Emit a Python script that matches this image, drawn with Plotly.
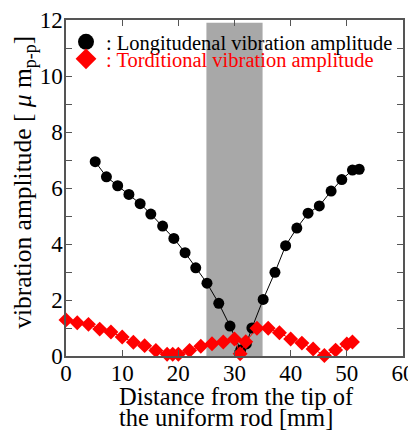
import plotly.graph_objects as go

# Longitudinal vibration amplitude (black circles)
long_x = [5.2, 7.2, 9.2, 11.2, 13.2, 15.1, 17.2, 19.2, 21.2, 23.1, 25.1, 27.2, 29.2,
          31.1, 32.1, 33.1, 35.1, 37.2, 39.1, 41.1, 43.1, 45.1, 47.2, 49.1, 51.0, 52.2]
long_y = [6.94, 6.40, 6.08, 5.77, 5.44, 5.07, 4.64, 4.20, 3.69, 3.15, 2.60, 1.88, 1.07,
          0.21, 0.43, 1.00, 2.02, 2.99, 3.94, 4.57, 5.10, 5.36, 5.89, 6.30, 6.64, 6.67]

# Torsional vibration amplitude (red diamonds)
tors_x = [0, 2, 4, 6, 8, 10, 12, 14, 16, 18, 19, 20, 22, 24, 26, 28, 30, 31, 32,
          34, 36, 38, 40, 42, 44, 46, 48, 50, 51]
tors_y = [1.29, 1.19, 1.13, 0.96, 0.86, 0.68, 0.49, 0.37, 0.20, 0.06, 0.06, 0.06, 0.20,
          0.35, 0.44, 0.50, 0.61, 0.08, 0.51, 0.99, 0.99, 0.83, 0.61, 0.46, 0.25, 0.02,
          0.21, 0.43, 0.50]

band = [25, 35]
x_ticks = [0, 10, 20, 30, 40, 50, 60]
y_ticks = [0, 2, 4, 6, 8, 10, 12]

long_name = ": Longitudenal vibration amplitude"
tors_name = ": Torditional vibration amplitude"
x_title_1 = "Distance from the tip of"
x_title_2 = "the uniform rod [mm]"
y_title = "vibration amplitude [ <i>μ</i> m<sub>p-p</sub>]"

FONT = "Liberation Serif, Times New Roman, serif"
AX = "#555555"

fig = go.Figure()

fig.add_shape(type="rect", xref="x", yref="y", x0=band[0], x1=band[1], y0=0, y1=11.9,
              fillcolor="#a8a8a8", line=dict(width=0), layer="below")

fig.add_trace(go.Scatter(x=long_x, y=long_y, mode="lines+markers",
                         line=dict(color="black", width=1),
                         marker=dict(symbol="circle", size=11, color="black"),
                         showlegend=False, cliponaxis=False))
fig.add_trace(go.Scatter(x=tors_x, y=tors_y, mode="lines+markers",
                         line=dict(color="red", width=1),
                         marker=dict(symbol="diamond", size=11.5, color="red"),
                         showlegend=False, cliponaxis=False))

# legend entries
fig.add_trace(go.Scatter(x=[None], y=[None], mode="markers", name=long_name, legend="legend",
                         marker=dict(symbol="circle", size=18, color="black")))
fig.add_trace(go.Scatter(x=[None], y=[None], mode="markers", name=tors_name, legend="legend2",
                         marker=dict(symbol="diamond", size=18, color="red")))

axis_common = dict(showline=True, linecolor=AX, linewidth=1.5, mirror="ticks",
                   ticks="inside", ticklen=6, tickcolor=AX, tickwidth=1.2,
                   showgrid=False, zeroline=False, automargin=False,
                   tickfont=dict(family=FONT, size=23, color="black"))

fig.update_xaxes(range=[0, 60], tickvals=x_ticks, ticklabelstandoff=-4, **axis_common)
fig.update_yaxes(range=[0, 12], tickvals=y_ticks, ticklabelstandoff=-3,
                 minor=dict(dtick=1, ticks="inside", ticklen=6, tickcolor=AX, tickwidth=1.2),
                 **axis_common)

fig.add_annotation(xref="paper", yref="paper", x=0.151, y=-0.122, xanchor="left", yanchor="middle",
                   text=x_title_1, showarrow=False,
                   font=dict(family=FONT, size=24.5, color="black"))
fig.add_annotation(xref="paper", yref="paper", x=0.151, y=-0.182, xanchor="left", yanchor="middle",
                   text=x_title_2, showarrow=False,
                   font=dict(family=FONT, size=24.5, color="black"))
fig.add_annotation(xref="paper", yref="paper", x=-0.125, y=0.518, xanchor="center", yanchor="middle",
                   textangle=-90, text=y_title, showarrow=False,
                   font=dict(family=FONT, size=25.5, color="black"))

leg_common = dict(x=0.0, xanchor="left", yanchor="middle", bgcolor="rgba(0,0,0,0)")
fig.update_layout(width=408, height=424, margin=dict(l=58, r=13, t=12, b=76),
                  plot_bgcolor="white", paper_bgcolor="white",
                  legend=dict(y=0.9345, font=dict(family=FONT, size=20.5, color="black"), **leg_common),
                  legend2=dict(y=0.884, font=dict(family=FONT, size=20.5, color="red"), **leg_common))

fig.write_html("out.html")
